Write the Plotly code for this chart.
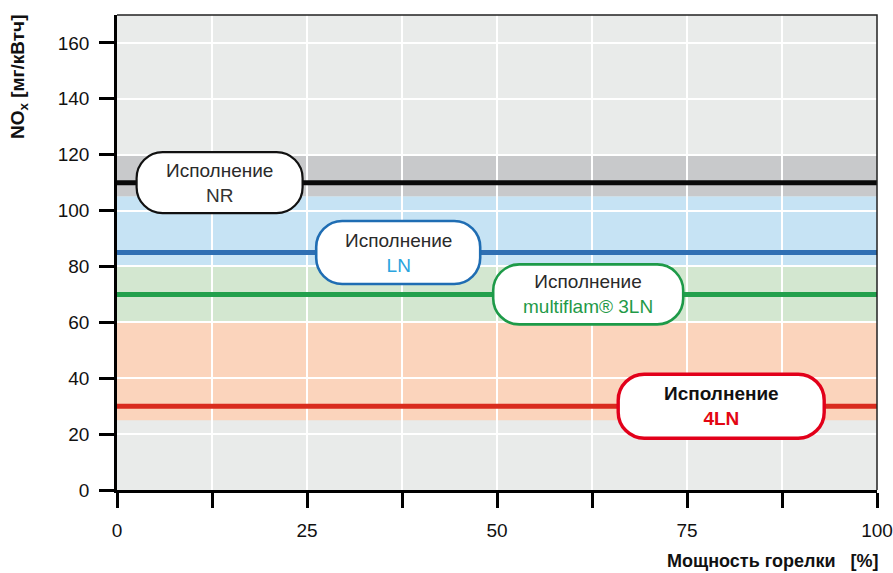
import plotly.graph_objects as go

# Burner output axis (percent) and NOx emission levels per design
x_range = [0, 100]
design_names = ["NR", "LN", "multiflam® 3LN", "4LN"]
nox_levels = [110, 85, 70, 30]
band_low = [105, 80, 60, 25]
band_high = [120, 105, 80, 60]
label_x = [13.5, 37, 62, 79.5]

x_tickvals = [0, 12.5, 25, 37.5, 50, 62.5, 75, 87.5, 100]
x_ticktext = ["0", "", "25", "", "50", "", "75", "", "100"]
y_tickvals = [0, 20, 40, 60, 80, 100, 120, 140, 160]

band_colors = ["#c8c9cb", "#c6e3f4", "#d3e7d0", "#fbd4bc"]
line_colors = ["#0a0a0a", "#2f6fb3", "#22a04c", "#d92b1e"]
box_colors = ["#111111", "#1f6db3", "#1d9a48", "#e2001a"]
name_colors = ["#333333", "#2aa4de", "#1f9a48", "#e30613"]
box_sizes = [(166, 61), (164, 63), (190, 60), (206, 64)]
box_widths = [2.2, 2.6, 2.6, 3.4]
bold_label = [False, False, False, True]

FONT = "Liberation Sans, Arial, sans-serif"

fig = go.Figure()

for lvl, col in zip(nox_levels, line_colors):
    fig.add_trace(go.Scatter(
        x=x_range, y=[lvl, lvl], mode="lines",
        line=dict(color=col, width=5), showlegend=False, hoverinfo="skip",
    ))

shapes = []
for lo, hi, col in zip(band_low, band_high, band_colors):
    shapes.append(dict(type="rect", xref="x", yref="y", x0=x_range[0], x1=x_range[1],
                       y0=lo, y1=hi, fillcolor=col, line_width=0, layer="below"))


def pill_path(w, h, r):
    hw, hh = w / 2, h / 2
    k = 0.55 * r
    return (f"M {-hw + r},{-hh} L {hw - r},{-hh} "
            f"C {hw - r + k},{-hh} {hw},{-hh + r - k} {hw},{-hh + r} "
            f"L {hw},{hh - r} "
            f"C {hw},{hh - r + k} {hw - r + k},{hh} {hw - r},{hh} "
            f"L {-hw + r},{hh} "
            f"C {-hw + r - k},{hh} {-hw},{hh - r + k} {-hw},{hh - r} "
            f"L {-hw},{-hh + r} "
            f"C {-hw},{-hh + r - k} {-hw + r - k},{-hh} {-hw + r},{-hh} Z")


annotations = []
for name, lvl, lx, (w, h), bc, lw, nc, bold in zip(
        design_names, nox_levels, label_x, box_sizes, box_colors, box_widths,
        name_colors, bold_label):
    shapes.append(dict(type="path", xref="x", yref="y",
                       xsizemode="pixel", ysizemode="pixel",
                       xanchor=lx, yanchor=lvl,
                       path=pill_path(w, h, 26),
                       fillcolor="white", line=dict(color=bc, width=lw),
                       layer="above"))
    if bold:
        txt = f"<b>Исполнение</b><br><b><span style='color:{nc}'>{name}</span></b>"
        tcol = "#111111"
    else:
        txt = f"Исполнение<br><span style='color:{nc}'>{name}</span>"
        tcol = "#2a2a2a"
    annotations.append(dict(x=lx, y=lvl, xref="x", yref="y", text=txt,
                            showarrow=False, align="center",
                            font=dict(family=FONT, size=19, color=tcol)))

# frame on top and right
shapes.append(dict(type="path", xref="paper", yref="paper",
                   path="M 0,1 L 1,1 L 1,0", line=dict(color="#222222", width=1.5),
                   layer="above"))

annotations.append(dict(x=1.004, y=-0.15, xref="paper", yref="paper",
                        xanchor="right", yanchor="middle", showarrow=False,
                        text="<b>Мощность горелки   [%]</b>",
                        font=dict(family=FONT, size=18, color="#111111")))
annotations.append(dict(x=-0.128, y=0.869, xref="paper", yref="paper",
                        xanchor="center", yanchor="middle", showarrow=False,
                        textangle=-90,
                        text="<b>NO<sub>x</sub> [мг/кВтч]</b>",
                        font=dict(family=FONT, size=19, color="#111111")))

fig.update_layout(
    width=893, height=573,
    margin=dict(l=117, r=16, t=15, b=83),
    paper_bgcolor="white", plot_bgcolor="#e9ebea",
    shapes=shapes, annotations=annotations,
    font=dict(family=FONT, size=19, color="#111111"),
    xaxis=dict(range=x_range, tickvals=x_tickvals, ticktext=x_ticktext,
               showgrid=True, gridcolor="white", gridwidth=2,
               zeroline=False, showline=True, linecolor="black", linewidth=2.5,
               ticks="outside", ticklen=15, tickwidth=2.5, tickcolor="black",
               ticklabelstandoff=6, ticklabeloverflow="allow",
               automargin=False, fixedrange=True),
    yaxis=dict(range=[0, 170], tickvals=y_tickvals,
               showgrid=True, gridcolor="white", gridwidth=2,
               zeroline=False, showline=True, linecolor="black", linewidth=2.5,
               ticks="outside", ticklen=15, tickwidth=2.5, tickcolor="black",
               ticklabelstandoff=6, automargin=False, fixedrange=True),
    showlegend=False,
)

fig.write_html("out.html")
